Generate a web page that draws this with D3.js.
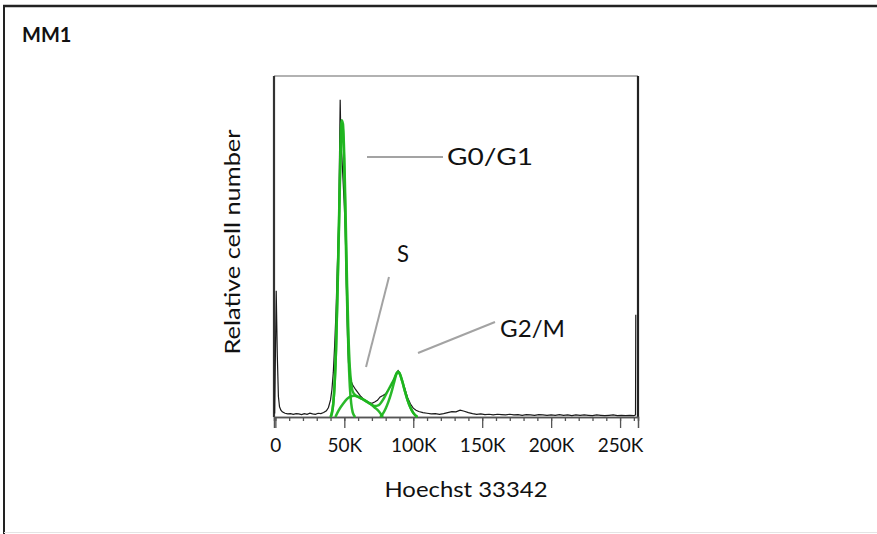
<!DOCTYPE html>
<html>
<head>
<meta charset="utf-8">
<script src="https://cdn.jsdelivr.net/npm/d3@7"></script>
<style>
  body { margin: 0; background: #fff; }
  text { font-family: Lato, "Open Sans", sans-serif; fill: #111; }
</style>
</head>
<body>
<svg id="svg" width="877" height="534"></svg>
<script>
// histogram (channel in K, relative count)
var histK = [-0.5,0.6,1.4,2.2,3,4,5,7,9,11,13,15,17,19,21,23,25,27,29,31,33,35,37,38.5,40,41,42,43,44,45,46,46.5,47,47.6,48.3,49,50,50.7,51.5,52.3,53,54,55,56,57,58,60,62,64,66,68,70,72,74,76,78,80,82,84,86,87,88,89,90,91,92,93,94,95,96,98,100,102,104,107,110,113,116,119,122,125,128,131,134,137,140,143,146,149,152,155,158,161,164,167,170,173,176,179,182,185,188,191,194,197,200,203,206,209,212,215,218,221,224,227,230,233,236,239,242,245,248,251,254,257,260,261.2,261.4];
var histN = [1,37,18,6,3,2,1.5,1.1,0.9,1.0,0.8,1.0,0.9,0.7,1.0,0.8,1.1,0.9,0.8,1.1,1.0,1.3,1.8,2.8,5,8,13,21,31,45,58,76,93,79,76,70,62,55,38,24,16,12,10.5,9.4,8.8,8.2,7.1,6.0,5.2,4.6,4.2,4.0,4.4,4.9,5.9,6.3,6.8,8.0,9.3,11.2,12.1,13.0,13.6,13.0,12.0,10.6,9.3,8.2,6.8,5.6,3.8,2.6,2.0,1.6,1.3,1.1,0.9,1.0,0.8,1.0,1.3,1.6,1.5,2.0,1.7,1.3,1.0,0.8,0.9,0.7,0.8,0.6,0.8,0.7,0.6,0.8,0.6,0.7,0.5,0.7,0.6,0.5,0.7,0.6,0.5,0.6,0.5,0.7,0.5,0.6,0.4,0.6,0.5,0.6,0.5,0.4,0.6,0.5,0.4,0.5,0.6,0.4,0.5,0.4,0.5,0.4,0.6,30];

// fitted components
var g1K = [40,41,42,43,44,45,46,47,48,48.5,49,50,51,52,53,54,55,56,57,58];
var g1N = [0,1,4,10,20,35,53,72,85,86,84,72,53,34,19,9,4,1.5,0.5,0];
var sK = [43.5,46,49,52,55,57,60,63,66,69,72,75,78];
var sN = [0,2,3.8,5.3,6.1,6.2,5.9,5.3,4.6,3.8,2.8,1.7,0];
var g2K = [76,78,80,82,84,86,88,89,90,92,94,96,98,100,103];
var g2N = [0,1,2.5,4.5,7,10,12.8,13.2,12.8,10.5,7.5,4.8,2.7,1.2,0];
var sumK = [40,42,44,46,48,49,50,51,52,53,54,55,56,58,60,63,66,69,72,75,78,80,84,86,88,89,90,92,94,96,98,100,103];
var sumN = [0,4,20,55,87,86,76,58,39,24,14.5,10,7.6,6.4,5.9,5.3,4.6,3.8,3.2,3.5,5,6.5,9.5,11,12.9,13.3,12.9,10.5,7.5,4.8,2.7,1.2,0];

var majorTicks = [0,50,100,150,200,250];
var minorTicks = d3.range(0, 261, 10);

var svg = d3.select("#svg");

// outer panel border
svg.append("line").attr("x1",3).attr("y1",6).attr("x2",877).attr("y2",6)
   .style("stroke","#222").style("stroke-width",2.5);
svg.append("line").attr("x1",4).attr("y1",6).attr("x2",4).attr("y2",534)
   .style("stroke","#222").style("stroke-width",2);
svg.append("line").attr("x1",4).attr("y1",532.5).attr("x2",877).attr("y2",532.5)
   .style("stroke","#e4e4e4").style("stroke-width",1);

svg.append("text").attr("x",22).attr("y",42)
   .style("font-size","20px").style("font-weight","bold")
   .text("MM1");

var L=274, R=638, T=76, B=417;
var x = d3.scaleLinear().domain([-1,263]).range([L,R]);
var y = d3.scaleLinear().domain([0,100]).range([B,T]);

// frame
svg.append("line").attr("x1",L).attr("y1",T).attr("x2",R).attr("y2",T)
   .style("stroke","#999").style("stroke-width",1.5);
svg.append("line").attr("x1",L).attr("y1",T).attr("x2",L).attr("y2",B)
   .style("stroke","#333").style("stroke-width",2.2);
svg.append("line").attr("x1",R).attr("y1",T).attr("x2",R).attr("y2",B)
   .style("stroke","#222").style("stroke-width",2.2);

// axes
var minor = svg.append("g").attr("transform","translate(0,"+B+")")
   .call(d3.axisBottom(x).tickValues(minorTicks).tickSize(4).tickFormat(""));
var major = svg.append("g").attr("transform","translate(0,"+B+")")
   .call(d3.axisBottom(x).tickValues(majorTicks).tickSize(11).tickPadding(11)
         .tickFormat(function(d){ return d ? d+"K" : "0"; }));
svg.selectAll(".domain").style("stroke","#555").style("stroke-width",1.5);
svg.selectAll(".tick line").style("stroke","#555").style("stroke-width",1.3);
major.selectAll("text").style("font-size","19px").style("font-family","Lato, sans-serif").style("fill","#111");

// histogram
var line = d3.line().x(function(d){ return x(d[0]); }).y(function(d){ return y(d[1]); });
var smooth = d3.line().curve(d3.curveMonotoneX).x(function(d){ return x(d[0]); }).y(function(d){ return y(d[1]); });

svg.append("path").datum(d3.zip(histK, histN)).attr("d", line)
   .style("fill","none").style("stroke","#1a1a1a").style("stroke-width",1.2);

var green = "#1fb51f";
[[g1K,g1N],[sK,sN],[g2K,g2N],[sumK,sumN]].forEach(function(c){
  svg.append("path").datum(d3.zip(c[0], c[1])).attr("d", smooth)
     .style("fill","none").style("stroke",green).style("stroke-width",2.5).style("opacity",0.95);
});

// annotations
var gray = "#a3a3a3";
svg.append("line").attr("x1",367).attr("y1",157).attr("x2",443).attr("y2",157)
   .style("stroke",gray).style("stroke-width",2);
svg.append("line").attr("x1",389).attr("y1",277).attr("x2",366).attr("y2",367)
   .style("stroke",gray).style("stroke-width",2);
svg.append("line").attr("x1",418).attr("y1",353).attr("x2",495).attr("y2",322)
   .style("stroke",gray).style("stroke-width",2);
svg.append("text").attr("x",447).attr("y",165).attr("textLength",86).attr("lengthAdjust","spacingAndGlyphs")
   .style("font-size","23px").text("G0/G1");
svg.append("text").attr("x",397).attr("y",262).attr("textLength",12).attr("lengthAdjust","spacingAndGlyphs")
   .style("font-size","23px").text("S");
svg.append("text").attr("x",500).attr("y",337).attr("textLength",65).attr("lengthAdjust","spacingAndGlyphs")
   .style("font-size","23px").text("G2/M");

// axis titles
svg.append("text").attr("x",466).attr("y",497).attr("text-anchor","middle")
   .attr("textLength",163).attr("lengthAdjust","spacingAndGlyphs")
   .style("font-size","22px").text("Hoechst 33342");
svg.append("text").attr("transform","translate(240,242) rotate(-90)").attr("text-anchor","middle")
   .attr("textLength",225).attr("lengthAdjust","spacingAndGlyphs")
   .style("font-size","22px").text("Relative cell number");
</script>
</body>
</html>
